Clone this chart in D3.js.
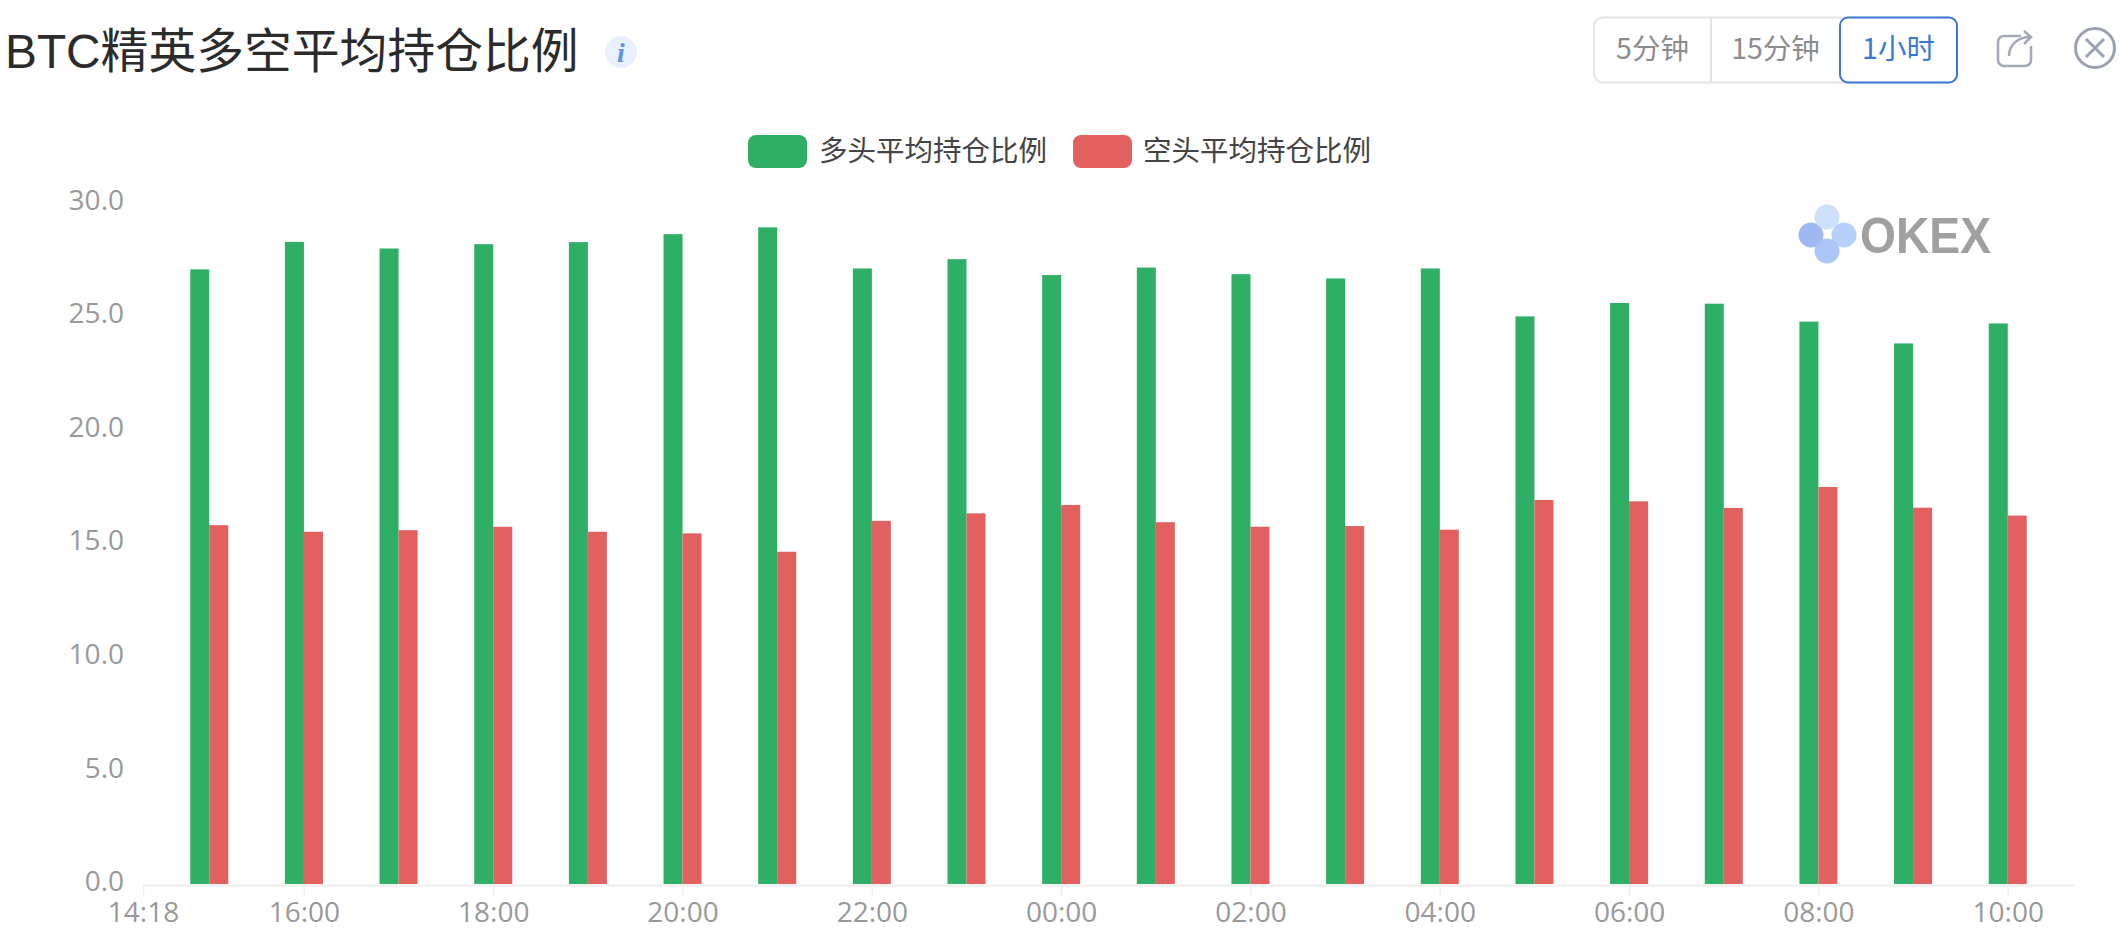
<!DOCTYPE html>
<html lang="zh">
<head>
<meta charset="utf-8">
<title>BTC精英多空平均持仓比例</title>
<script src="https://cdn.jsdelivr.net/npm/d3@7/dist/d3.min.js"></script>
<style>
html,body{margin:0;padding:0;background:#fff;overflow:hidden}
svg{display:block}
text{font-family:"Noto Sans CJK SC","Noto Sans",sans-serif}
.axis text{font-family:"Open Sans",sans-serif;font-size:28px;fill:#999}
</style>
</head>
<body>
<svg id="chart" width="2126" height="940"></svg>
<script>
const titleText = "BTC精英多空平均持仓比例";
const seriesNames = ["多头平均持仓比例", "空头平均持仓比例"];
const seriesColors = ["#2fae65", "#e26060"];
const categories = [
  "2020-01-01 15:00","2020-01-01 16:00","2020-01-01 17:00","2020-01-01 18:00","2020-01-01 19:00",
  "2020-01-01 20:00","2020-01-01 21:00","2020-01-01 22:00","2020-01-01 23:00","2020-01-02 00:00",
  "2020-01-02 01:00","2020-01-02 02:00","2020-01-02 03:00","2020-01-02 04:00","2020-01-02 05:00",
  "2020-01-02 06:00","2020-01-02 07:00","2020-01-02 08:00","2020-01-02 09:00","2020-01-02 10:00"
];
const longValues = [27.10,28.31,28.02,28.21,28.30,28.65,28.95,27.14,27.55,26.85,27.18,26.89,26.70,27.14,25.03,25.62,25.59,24.80,23.84,24.72];
const shortValues = [15.84,15.55,15.62,15.77,15.55,15.48,14.67,16.03,16.36,16.73,15.97,15.77,15.80,15.64,16.95,16.89,16.60,17.52,16.61,16.26];
const timeDomain = ["2020-01-01 14:18","2020-01-02 10:42"];
const xTicks = [
  "2020-01-01 14:18","2020-01-01 16:00","2020-01-01 18:00","2020-01-01 20:00","2020-01-01 22:00",
  "2020-01-02 00:00","2020-01-02 02:00","2020-01-02 04:00","2020-01-02 06:00","2020-01-02 08:00","2020-01-02 10:00"
];
const yTicks = [0,5,10,15,20,25,30];
const rangeButtons = ["5分钟","15分钟","1小时"];

const parse = d3.utcParse("%Y-%m-%d %H:%M");
const svg = d3.select("#chart");

const x = d3.scaleUtc().domain(timeDomain.map(parse)).range([143,2074]);
const y = d3.scaleLinear().domain([0,30]).range([885,203.5]);
const sub = d3.scaleBand().domain(seriesNames).range([-19,19]);

// axes
const gx = svg.append("g").attr("class","axis").attr("transform","translate(0,885)")
  .call(d3.axisBottom(x).tickValues(xTicks.map(parse)).tickFormat(d3.utcFormat("%H:%M")).tickSize(10).tickSizeOuter(0).tickPadding(7));
gx.select(".domain").attr("stroke","#eeeeee").attr("stroke-width",2);
gx.selectAll(".tick line").attr("stroke","#eeeeee").attr("stroke-width",1.5);

const gy = svg.append("g").attr("class","axis").attr("transform","translate(124,0)")
  .call(d3.axisLeft(y).tickValues(yTicks).tickFormat(d3.format(".1f")).tickSize(0).tickPadding(0));
gy.select(".domain").remove();
gy.selectAll(".tick text").attr("dy","0.2em");

// bars
[longValues, shortValues].forEach((vals,s)=>{
  svg.append("g").selectAll("rect").data(vals).join("rect")
    .attr("x",(d,i)=>x(parse(categories[i]))+sub(seriesNames[s]))
    .attr("width",sub.bandwidth())
    .attr("y",d=>y(d))
    .attr("height",d=>y(0)-y(d)-1)
    .attr("fill",seriesColors[s]);
});

// title
svg.append("text").attr("x",5).attr("y",68).text(titleText)
  .style("font-family",'"Liberation Sans","Noto Sans CJK SC",sans-serif')
  .style("font-size","47.8px").attr("fill","#2b2b2b");

// info badge
svg.append("circle").attr("cx",621).attr("cy",52).attr("r",16).attr("fill","#e8f1fd");
svg.append("text").attr("x",621).attr("y",62).attr("text-anchor","middle").text("i")
  .style("font-family",'"Liberation Serif",serif').style("font-style","italic").style("font-weight","700")
  .style("font-size","28px").attr("fill","#5b93e8");

// legend
const legendX = [751,1076].map(v=>v-3), legendTextX = [822,1146].map(v=>v-3);
seriesNames.forEach((n,i)=>{
  svg.append("rect").attr("x",legendX[i]).attr("y",135).attr("width",59).attr("height",33).attr("rx",8).attr("fill",seriesColors[i]);
  svg.append("text").attr("x",legendTextX[i]).attr("y",161).text(n).style("font-size","28.5px").attr("fill","#444");
});

// range buttons
const btnEdges = [1594,1711,1840,1957];
svg.append("rect").attr("x",btnEdges[0]).attr("y",17.5).attr("width",btnEdges[3]-btnEdges[0]).attr("height",65).attr("rx",9)
  .attr("fill","#fff").attr("stroke","#e4e4e4").attr("stroke-width",2);
svg.append("line").attr("x1",btnEdges[1]).attr("x2",btnEdges[1]).attr("y1",17.5).attr("y2",82.5).attr("stroke","#e4e4e4").attr("stroke-width",2);
svg.append("rect").attr("x",btnEdges[2]).attr("y",17.5).attr("width",btnEdges[3]-btnEdges[2]).attr("height",65).attr("rx",8)
  .attr("fill","#fff").attr("stroke","#3a78d8").attr("stroke-width",2);
rangeButtons.forEach((t,i)=>{
  svg.append("text").attr("x",(btnEdges[i]+btnEdges[i+1])/2).attr("y",59).attr("text-anchor","middle").text(t)
    .style("font-size","28.5px").attr("fill",i===2?"#3a78d8":"#8c8c8c");
});

// share icon
svg.append("path").attr("d","M2021 36h-17a6 6 0 0 0-6 6v18a6 6 0 0 0 6 6h21a6 6 0 0 0 6-6v-14")
  .attr("fill","none").attr("stroke","#a4a9b8").attr("stroke-width",2.5);
svg.append("path").attr("d","M2009 56c0-11 9-19 21-19M2024 31l7 6-7 7")
  .attr("fill","none").attr("stroke","#a4a9b8").attr("stroke-width",2.5);

// close icon
svg.append("circle").attr("cx",2095).attr("cy",48).attr("r",19.5).attr("fill","none").attr("stroke","#9aa1b0").attr("stroke-width",3);
svg.append("path").attr("d","M2086 39l18 18M2104 39l-18 18").attr("fill","none").attr("stroke","#9aa1b0").attr("stroke-width",3);

// watermark
const logo = svg.append("g").attr("opacity",0.95);
[[1811,235,"#8fadf0"],[1844,235,"#adc9f8"],[1827,217,"#c5dcf9"],[1827,251,"#9fbdf5"]].forEach(c=>{
  logo.append("circle").attr("cx",c[0]).attr("cy",c[1]).attr("r",12.5).attr("fill",c[2]).attr("fill-opacity",0.9);
});
logo.append("text").attr("x",1860).attr("y",253).text("OKEX")
  .style("font-family",'"Liberation Sans",sans-serif').style("font-weight","700").style("font-size","50px")
  .attr("textLength",131).attr("lengthAdjust","spacingAndGlyphs").attr("fill","#9b9b9b");
</script>
</body>
</html>
